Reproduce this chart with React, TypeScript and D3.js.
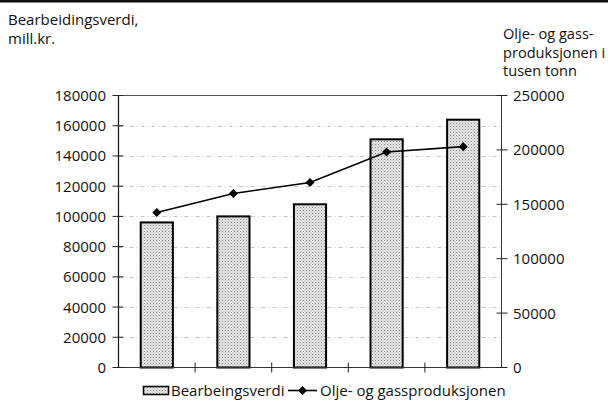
import React, { useEffect, useRef } from "react";
import * as d3 from "d3";

// five periods, the source chart prints no labels under the bars
const periods = ["p1", "p2", "p3", "p4", "p5"];
const bearbeidingsverdi = [96000, 100000, 108000, 151000, 164000];
const oljeGass = [142500, 160000, 170000, 198000, 203000];
const leftTicks = [0, 20000, 40000, 60000, 80000, 100000, 120000, 140000, 160000, 180000];
const rightTicks = [0, 50000, 100000, 150000, 200000, 250000];
const leftTitle = ["Bearbeidingsverdi,", "mill.kr."];
const rightTitle = ["Olje- og gass-", "produksjonen i", "tusen tonn"];
const legendLabels = ["Bearbeingsverdi", "Olje- og gassproduksjonen"];

const W = 608;
const H = 404;
const FONT = "'Open Sans', sans-serif";
const FS = 15;

const App = () => {
  const ref = useRef<SVGSVGElement>(null);

  useEffect(() => {
    const svg = d3.select(ref.current);
    svg.selectAll("*").remove();

    const left = 118.5;
    const right = 501.5;
    const top = 95.5;
    const bottom = 367.5;

    const x = d3.scaleBand().domain(periods).range([left, right]).paddingInner(0.58).paddingOuter(0.29);
    const xTicks = d3.scaleBand().domain(periods).range([left, right]);
    const yL = d3.scaleLinear().domain([0, 180000]).range([bottom, top]);
    const yR = d3.scaleLinear().domain([0, 250000]).range([bottom, top]);

    // stipple fill for bars
    const defs = svg.append("defs");
    const pat = defs.append("pattern")
      .attr("id", "stipple")
      .attr("width", 3)
      .attr("height", 3)
      .attr("patternUnits", "userSpaceOnUse");
    pat.append("rect").attr("width", 3).attr("height", 3).attr("fill", "#e4e4e4");
    pat.append("rect").attr("x", 0).attr("y", 0).attr("width", 1).attr("height", 1).attr("fill", "#8a8a8a");
    pat.append("rect").attr("x", 1.5).attr("y", 1.5).attr("width", 1).attr("height", 1).attr("fill", "#b4b4b4");

    svg.append("line")
      .attr("x1", 0).attr("x2", W).attr("y1", 1.2).attr("y2", 1.2)
      .attr("stroke", "#111").attr("stroke-width", 2.4);

    const g = svg.append("g");

    // gridlines
    g.selectAll(".grid")
      .data(leftTicks.filter((t) => t > 0 && t < 180000))
      .join("line")
      .attr("x1", left).attr("x2", right)
      .attr("y1", (d) => Math.round(yL(d)) + 0.5)
      .attr("y2", (d) => Math.round(yL(d)) + 0.5)
      .attr("stroke", "#b8b8b8")
      .attr("stroke-width", 0.8)
      .attr("stroke-dasharray", "4 3 1 3");

    // frame
    g.append("line").attr("x1", left).attr("x2", right).attr("y1", top).attr("y2", top)
      .attr("stroke", "#555").attr("stroke-width", 1);
    g.append("line").attr("x1", left).attr("x2", left).attr("y1", top).attr("y2", bottom)
      .attr("stroke", "#111").attr("stroke-width", 1.2);
    g.append("line").attr("x1", right).attr("x2", right).attr("y1", top).attr("y2", bottom)
      .attr("stroke", "#333").attr("stroke-width", 1);

    // bars
    g.selectAll(".bar")
      .data(bearbeidingsverdi)
      .join("rect")
      .attr("x", (_, i) => x(periods[i])!)
      .attr("y", (d) => yL(d))
      .attr("width", x.bandwidth())
      .attr("height", (d) => bottom - yL(d))
      .attr("fill", "url(#stipple)")
      .attr("stroke", "#000")
      .attr("stroke-width", 2);

    g.append("line").attr("x1", left).attr("x2", right).attr("y1", bottom).attr("y2", bottom)
      .attr("stroke", "#333").attr("stroke-width", 1.2);

    // ticks
    g.selectAll(".lt")
      .data(leftTicks)
      .join("line")
      .attr("x1", left - 6).attr("x2", left + 5)
      .attr("y1", (d) => yL(d)).attr("y2", (d) => yL(d))
      .attr("stroke", "#222").attr("stroke-width", 1);
    g.selectAll(".rt")
      .data(rightTicks)
      .join("line")
      .attr("x1", right - 5).attr("x2", right + 6)
      .attr("y1", (d) => yR(d)).attr("y2", (d) => yR(d))
      .attr("stroke", "#222").attr("stroke-width", 1);
    g.selectAll(".xt")
      .data(periods.slice(1))
      .join("line")
      .attr("x1", (d) => xTicks(d)!).attr("x2", (d) => xTicks(d)!)
      .attr("y1", bottom - 5).attr("y2", bottom + 5)
      .attr("stroke", "#222").attr("stroke-width", 1);

    // tick labels
    g.selectAll(".ll")
      .data(leftTicks)
      .join("text")
      .attr("x", 106)
      .attr("y", (d) => yL(d) + 5.5)
      .attr("text-anchor", "end")
      .attr("font-family", FONT)
      .attr("font-size", FS)
      .attr("fill", "#111")
      .text((d) => String(d));
    g.selectAll(".rl")
      .data(rightTicks)
      .join("text")
      .attr("x", 513)
      .attr("y", (d) => yR(d) + 5.5)
      .attr("font-family", FONT)
      .attr("font-size", FS)
      .attr("fill", "#111")
      .text((d) => String(d));

    // line series
    const line = d3.line<number>()
      .x((_, i) => x(periods[i])! + x.bandwidth() / 2)
      .y((d) => yR(d));
    g.append("path")
      .attr("d", line(oljeGass))
      .attr("fill", "none")
      .attr("stroke", "#000")
      .attr("stroke-width", 1.6);
    const diamond = d3.symbol(d3.symbolDiamond2, 52);
    g.selectAll(".pt")
      .data(oljeGass)
      .join("path")
      .attr("d", diamond)
      .attr("transform", (d, i) => `translate(${x(periods[i])! + x.bandwidth() / 2},${yR(d)})`)
      .attr("fill", "#000");

    // axis titles
    svg.append("g").selectAll("text")
      .data(leftTitle)
      .join("text")
      .attr("x", 8)
      .attr("y", (_, i) => 25 + i * 18.5)
      .attr("font-family", FONT)
      .attr("font-size", FS)
      .attr("fill", "#111")
      .text((d) => d);
    svg.append("g").selectAll("text")
      .data(rightTitle)
      .join("text")
      .attr("x", 503)
      .attr("y", (_, i) => 39 + i * 18.5)
      .attr("font-family", FONT)
      .attr("font-size", 14.6)
      .attr("fill", "#111")
      .text((d) => d);

    // legend
    const lg = svg.append("g");
    lg.append("rect")
      .attr("x", 143.5).attr("y", 386.5).attr("width", 25).attr("height", 8)
      .attr("fill", "url(#stipple)").attr("stroke", "#000").attr("stroke-width", 1.5);
    lg.append("text")
      .attr("x", 171).attr("y", 395.5)
      .attr("font-family", FONT).attr("font-size", FS).attr("fill", "#111")
      .text(legendLabels[0]);
    lg.append("line")
      .attr("x1", 288).attr("x2", 317).attr("y1", 390.5).attr("y2", 390.5)
      .attr("stroke", "#000").attr("stroke-width", 1.6);
    lg.append("path")
      .attr("d", diamond)
      .attr("transform", "translate(302.5,390.5)")
      .attr("fill", "#000");
    lg.append("text")
      .attr("x", 320).attr("y", 395.5)
      .attr("font-family", FONT).attr("font-size", FS).attr("fill", "#111")
      .text(legendLabels[1]);
  }, []);

  return (
    <svg
      ref={ref}
      width={W}
      height={H}
      style={{ position: "absolute", left: 0, top: 0, background: "#fff" }}
    />
  );
};

export default App;
